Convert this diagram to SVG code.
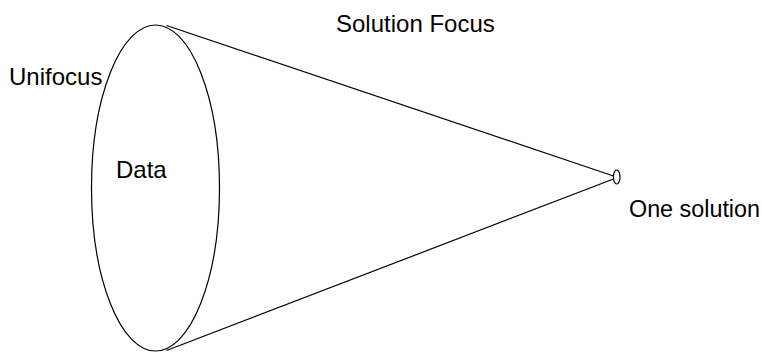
<svg xmlns="http://www.w3.org/2000/svg" width="762" height="352" viewBox="0 0 762 352">
<style>
.s{fill:none;stroke:#000;stroke-width:1.2}
text{font-family:"Liberation Sans",Arial,sans-serif;font-size:24px;fill:#000}
</style>
<rect width="762" height="352" fill="#fff"/>
<g id="connectors">
<line class="s" x1="166.5" y1="25.5" x2="613.5" y2="176"/>
<line class="s" x1="166.5" y1="350.5" x2="613.5" y2="179"/>
</g>
<g id="data">
<ellipse class="s" cx="155.5" cy="188" rx="64" ry="163"/>
<text x="116" y="178">Data</text>
</g>
<g id="solution">
<ellipse class="s" cx="616.7" cy="177" rx="3.3" ry="7"/>
</g>
<text x="336" y="32">Solution Focus</text>
<text x="9" y="85">Unifocus</text>
<text x="629" y="217" style="font-size:23.5px" textLength="131" lengthAdjust="spacingAndGlyphs">One solution</text>
</svg>
